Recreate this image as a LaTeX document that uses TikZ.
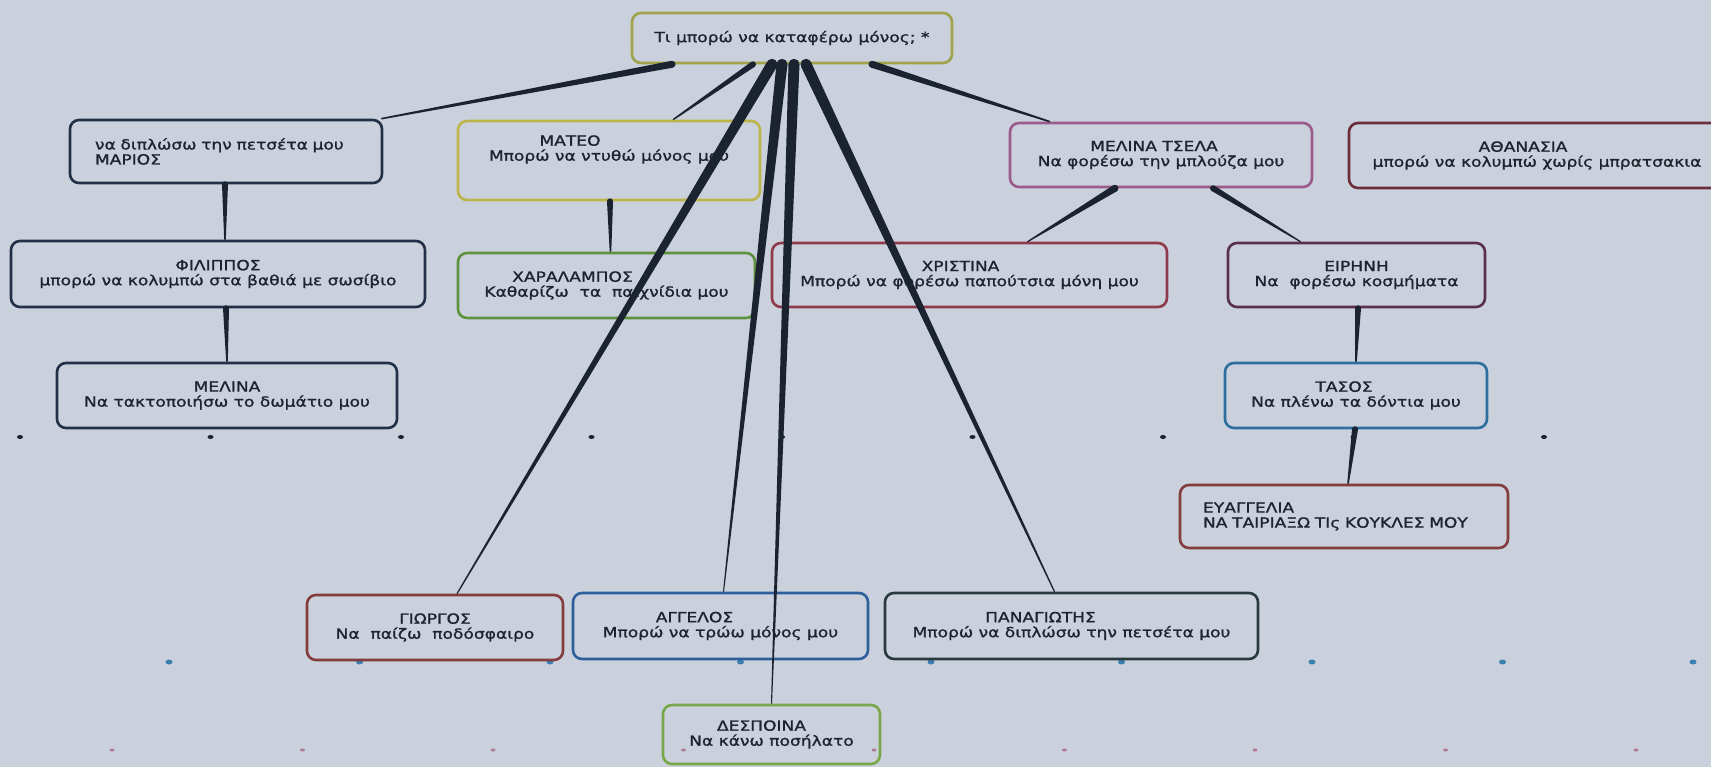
\documentclass[tikz,border=0pt]{standalone}
\usepackage{fontspec}
\setmainfont{DejaVu Sans}[FakeStretch=1.22, FakeBold=1.3]
\usetikzlibrary{positioning,calc}

\definecolor{bgcol}{HTML}{CAD1DD}
\definecolor{ink}{HTML}{1E232E}
\definecolor{linkcol}{HTML}{1B2230}
\definecolor{navy}{HTML}{223047}
\definecolor{olivebox}{HTML}{A2A24A}
\definecolor{mustard}{HTML}{BDB54C}
\definecolor{leaf}{HTML}{5F913E}
\definecolor{lime}{HTML}{7AA64A}
\definecolor{wine}{HTML}{8F3A4A}
\definecolor{plum}{HTML}{9A5A8A}
\definecolor{berry}{HTML}{6A2D3A}
\definecolor{grape}{HTML}{5A2E50}
\definecolor{sky}{HTML}{2F6F9F}
\definecolor{ocean}{HTML}{2D5F9A}
\definecolor{brick}{HTML}{843C3C}
\definecolor{slate}{HTML}{283A3E}
\definecolor{dotblue}{HTML}{3A7FB0}
\definecolor{dotpink}{HTML}{B07A92}

\tikzset{box/.style={draw=#1, line width=2.6pt, rounded corners=9pt, align=center, inner sep=0pt}}

% tapered link: from, to, thick half width, thin half width
\newcommand{\taper}[4]{%
  \fill[linkcol] (#1) circle (#3pt);
  \fill[linkcol] ($(#1)!#3pt!90:(#2)$) -- ($(#2)!#4pt!-90:(#1)$) -- ($(#2)!#4pt!90:(#1)$) -- ($(#1)!#3pt!-90:(#2)$) -- cycle;}

\begin{document}
\begin{tikzpicture}[x=1pt, y=-1pt, font=\fontsize{14}{15}\selectfont, text=ink]
		\useasboundingbox (0,0) rectangle (1711,767);
		\clip (0,0) rectangle (1711,767);
		\fill[bgcol] (0,0) rectangle (1711,767);
		
		%dots
		\fill[linkcol] (20,437) ellipse (3pt and 2pt) (210.5,437) ellipse (3pt and 2pt) (401,437) ellipse (3pt and 2pt) (591.5,437) ellipse (3pt and 2pt) (782,437) ellipse (3pt and 2pt) (972.5,437) ellipse (3pt and 2pt) (1163,437) ellipse (3pt and 2pt) (1353.5,437) ellipse (3pt and 2pt) (1544,437) ellipse (3pt and 2pt);
		\fill[dotblue] (169,662) ellipse (3.5pt and 2.5pt) (359.5,662) ellipse (3.5pt and 2.5pt) (550,662) ellipse (3.5pt and 2.5pt) (740.5,662) ellipse (3.5pt and 2.5pt) (931,662) ellipse (3.5pt and 2.5pt) (1121.5,662) ellipse (3.5pt and 2.5pt) (1312,662) ellipse (3.5pt and 2.5pt) (1502.5,662) ellipse (3.5pt and 2.5pt) (1693,662) ellipse (3.5pt and 2.5pt);
		\fill[dotpink] (112,750) ellipse (2.5pt and 1.5pt) (302.5,750) ellipse (2.5pt and 1.5pt) (493,750) ellipse (2.5pt and 1.5pt) (683.5,750) ellipse (2.5pt and 1.5pt) (874,750) ellipse (2.5pt and 1.5pt) (1064.5,750) ellipse (2.5pt and 1.5pt) (1255,750) ellipse (2.5pt and 1.5pt) (1445.5,750) ellipse (2.5pt and 1.5pt) (1636,750) ellipse (2.5pt and 1.5pt);
		
		%centre
		\node[box=olivebox, minimum width=320pt, minimum height=50pt] (c0) at (792,38) {Τι μπορώ να καταφέρω μόνος; *};
		
		%left
		\node[box=navy, minimum width=312pt, minimum height=63pt, text width=262pt, align=left] (l1) at (226,151.5) {να διπλώσω την πετσέτα μου\\ΜΑΡΙΟΣ};
		\node[box=navy, minimum width=414pt, minimum height=66pt] (l2) at (218,274) {ΦΙΛΙΠΠΟΣ\\μπορώ να κολυμπώ στα βαθιά με σωσίβιο};
		\node[box=navy, minimum width=340pt, minimum height=65pt] (l3) at (227,395.5) {ΜΕΛΙΝΑ\\Να τακτοποιήσω το δωμάτιο μου};
		
		%middle
		\node[box=mustard, minimum width=302pt, minimum height=79pt] (m1) at (609,160.5) {ΜΑΤΕΟ\hspace*{78pt}\\Μπορώ να ντυθώ μόνος μου\\[10pt]};
		\node[box=leaf, minimum width=297pt, minimum height=65pt] (m2) at (606.5,285.5) {ΧΑΡΑΛΑΜΠΟΣ\hspace*{68pt}\\Καθαρίζω~ τα~ παιχνίδια μου};
		
		%right
		\node[box=plum, minimum width=302pt, minimum height=64pt] (r1) at (1161,155) {ΜΕΛΙΝΑ ΤΣΕΛΑ\hspace*{14pt}\\Να φορέσω την μπλούζα μου};
		\node[box=wine, minimum width=395pt, minimum height=64pt] (r2) at (969.5,275) {ΧΡΙΣΤΙΝΑ\hspace*{18pt}\\Μπορώ να φορέσω παπούτσια μόνη μου};
		\node[box=grape, minimum width=257pt, minimum height=64pt] (r3) at (1356.5,275) {ΕΙΡΗΝΗ\\Να~ φορέσω κοσμήματα};
		\node[box=sky, minimum width=262pt, minimum height=65pt] (r4) at (1356,395.5) {ΤΑΣΟΣ\hspace*{24pt}\\Να πλένω τα δόντια μου};
		\node[box=brick, minimum width=328pt, minimum height=63pt, text width=282pt, align=left] (r5) at (1344,516.5) {ΕΥΑΓΓΕΛΙΑ\\ΝΑ ΤΑΙΡΙΑΞΩ ΤΙς ΚΟΥΚΛΕΣ ΜΟΥ};
		\node[box=berry, minimum width=376pt, minimum height=65pt] (r6) at (1537,155.5) {ΑΘΑΝΑΣΙΑ\hspace*{28pt}\\μπορώ να κολυμπώ χωρίς μπρατσακια};
		
		%bottom
		\node[box=brick, minimum width=256pt, minimum height=65pt] (b1) at (435,627.5) {ΓΙΩΡΓΟΣ\\Να~ παίζω~ ποδόσφαιρο};
		\node[box=ocean, minimum width=295pt, minimum height=66pt] (b2) at (720.5,626) {ΑΓΓΕΛΟΣ\hspace*{52pt}\\Μπορώ να τρώω μόνος μου};
		\node[box=slate, minimum width=373pt, minimum height=66pt] (b3) at (1071.5,626) {ΠΑΝΑΓΙΩΤΗΣ\hspace*{62pt}\\Μπορώ να διπλώσω την πετσέτα μου};
		\node[box=lime, minimum width=217pt, minimum height=59pt] (b4) at (771.5,734.5) {ΔΕΣΠΟΙΝΑ\hspace*{20pt}\\Να κάνω ποσήλατο};
		
		%link ends
		\coordinate (c0-l1) at ([xshift=-120pt]c0.south);
		\coordinate (c0-m1) at ([xshift=-39pt]c0.south);
		\coordinate (c0-b1) at ([xshift=-20pt]c0.south);
		\coordinate (c0-b2) at ([xshift=-10pt]c0.south);
		\coordinate (c0-b4) at ([xshift=2pt]c0.south);
		\coordinate (c0-b3) at ([xshift=14pt]c0.south);
		\coordinate (c0-r1) at ([xshift=80pt]c0.south);
		\coordinate (l1-c0) at ([xshift=-2pt]l1.north east);
		\coordinate (m1-c0) at ([xshift=64pt]m1.north);
		\coordinate (b1-c0) at ([xshift=22pt]b1.north);
		\coordinate (b2-c0) at ([xshift=3pt]b2.north);
		\coordinate (b4-c0) at (b4.north);
		\coordinate (b3-c0) at ([xshift=-17pt]b3.north);
		\coordinate (r1-c0) at ([xshift=-111pt]r1.north);
		\coordinate (r1-r2) at ([xshift=-46pt]r1.south);
		\coordinate (r2-r1) at ([xshift=58pt]r2.north);
		\coordinate (r1-r3) at ([xshift=52pt]r1.south);
		\coordinate (r3-r1) at ([xshift=-56pt]r3.north);
		\coordinate (l1-l2) at ([xshift=-1pt]l1.south);
		\coordinate (l2-l1) at ([xshift=7pt]l2.north);
		\coordinate (l2-l3) at ([xshift=8pt]l2.south);
		\coordinate (l3-l2) at (l3.north);
		\coordinate (m1-m2) at ([xshift=1pt]m1.south);
		\coordinate (m2-m1) at ([xshift=4pt]m2.north);
		\coordinate (r3-r4) at ([xshift=1.5pt]r3.south);
		\coordinate (r4-r3) at (r4.north);
		\coordinate (r4-r5) at ([xshift=-1pt]r4.south);
		\coordinate (r5-r4) at ([xshift=4pt]r5.north);
		
		%links
		\taper{c0-l1}{l1-c0}{3.5}{0.8}
		\taper{c0-m1}{m1-c0}{3}{0.7}
		\taper{c0-b1}{b1-c0}{5.5}{0.6}
		\taper{c0-b2}{b2-c0}{5.5}{0.5}
		\taper{c0-b4}{b4-c0}{5.5}{0.5}
		\taper{c0-b3}{b3-c0}{5.5}{0.6}
		\taper{c0-r1}{r1-c0}{3.5}{0.8}
		\taper{r1-r2}{r2-r1}{3.5}{0.6}
		\taper{r1-r3}{r3-r1}{3}{0.6}
		\taper{l1-l2}{l2-l1}{3}{0.8}
		\taper{l2-l3}{l3-l2}{3}{0.8}
		\taper{m1-m2}{m2-m1}{3}{0.8}
		\taper{r3-r4}{r4-r3}{3}{0.8}
		\taper{r4-r5}{r5-r4}{3}{0.8}
		
	\end{tikzpicture}
\end{document}
